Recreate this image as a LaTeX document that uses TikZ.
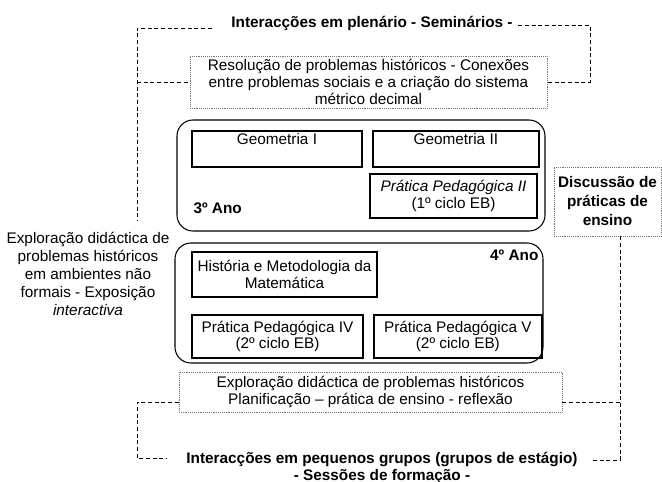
\documentclass[tikz,border=0pt]{standalone}
\usepackage{fontspec}
\setmainfont{Liberation Sans}
\usetikzlibrary{chains}
\tikzstyle{course}=[draw,line width=1.4pt,inner sep=0pt,align=center]
\tikzstyle{year}=[draw,line width=0.8pt,rounded corners=12pt,inner sep=0pt]
\tikzstyle{theme}=[draw=black!55,densely dotted,inner sep=0pt,align=center]
\tikzstyle{linkline}=[densely dashed,line width=0.5pt]
\tikzstyle{heading}=[font=\fontsize{11.5}{12.5}\selectfont\bfseries,align=center,inner sep=1pt]
\tikzstyle{toptext}=[inner ysep=2pt,text height=8pt,text depth=15pt]

\begin{document}
\begin{tikzpicture}[x=0.75pt,y=-0.75pt,font=\fontsize{11.5}{12.5}\selectfont]
\useasboundingbox (0,0) rectangle (662,482);
\node [heading] (ttop) at (372,23) {Interacções em plenário - Seminários -};
\node [theme,minimum width=267.75pt,minimum height=39pt] (res) at (368.5,82)
    {Resolução de problemas históricos - Conexões\\entre problemas sociais e a criação do sistema\\métrico decimal};
\node [year,minimum width=276pt,minimum height=83.25pt] (ano3) at (361,175.5) {};
\begin{scope}[start chain=1 going right, node distance=6.75pt]
    \node [on chain=1,course,toptext,minimum width=127.5pt,minimum height=27pt] (geo1) at (277,149) {Geometria I};
    \node [on chain=1,course,toptext,minimum width=124.5pt,minimum height=27pt] (geo2) {Geometria II};
\end{scope}
\node [course,minimum width=125.25pt,minimum height=33pt] (pp2) at (453.5,196)
    {\textit{Prática Pedagógica II}\\(1º ciclo EB)};
\node [heading,anchor=base west] (ano3lbl) at (192,213) {3º Ano};
\node [theme,heading,minimum width=80pt,minimum height=51.75pt] (disc) at (607.5,201.5)
    {Discussão de\\[1.75pt]práticas de\\[1.75pt]ensino};
\node [align=center] (expo) at (88,274)
    {Exploração didáctica de\\[1pt]problemas históricos\\[1pt]em ambientes não\\[1pt]formais - Exposição\\[1pt]\textit{interactiva}};
\node [year,minimum width=276pt,minimum height=90pt] (ano4) at (359,303) {};
\node [course,minimum width=138.75pt,minimum height=33.75pt] (hist) at (284.5,274.5)
    {História e Metodologia da\\Matemática};
\node [heading,anchor=base east] (ano4lbl) at (540,260) {4º Ano};
\begin{scope}[start chain=2 going right, node distance=6.75pt]
    \node [on chain=2,course,minimum width=128.25pt,minimum height=32.25pt] (pp4) at (277.5,336.5)
        {Prática Pedagógica IV\\(2º ciclo EB)};
    \node [on chain=2,course,minimum width=126pt,minimum height=32.25pt] (pp5)
        {Prática Pedagógica V\\(2º ciclo EB)};
\end{scope}
\node [theme,minimum width=287.25pt,minimum height=30pt] (expl) at (370.5,392)
    {Exploração didáctica de problemas históricos\\Planificação – prática de ensino - reflexão};
\node [heading] (tbot) at (382,468)
    {Interacções em pequenos grupos (grupos de estágio)\\- Sessões de formação -};
\coordinate (tl) at (137,28);
\coordinate (lend) at (137,220);
\coordinate (tr) at (590,25);
\coordinate (br) at (620,460);
\coordinate (bl) at (137,458);
\draw [linkline] ([xshift=-13.5pt]ttop.west |- tl) -- (tl) -- (lend);
\draw [linkline] (tl |- res.west) -- (res.west);
\draw [linkline] ([xshift=3pt]ttop.east |- tr) -- (tr) -- (tr |- res.east) -- (res.east);
\draw [linkline] (disc.south -| br) -- (br) -- ([xshift=9pt]tbot.east |- br);
\draw [linkline] ([yshift=-8pt]expl.east) -- ([yshift=-8pt]expl.east -| br);
\draw [linkline] ([yshift=-7.5pt]expl.west) -- ([yshift=-7.5pt]expl.west -| bl) -- (bl) -- ([xshift=-14pt]tbot.west |- bl);
\end{tikzpicture}
\end{document}
